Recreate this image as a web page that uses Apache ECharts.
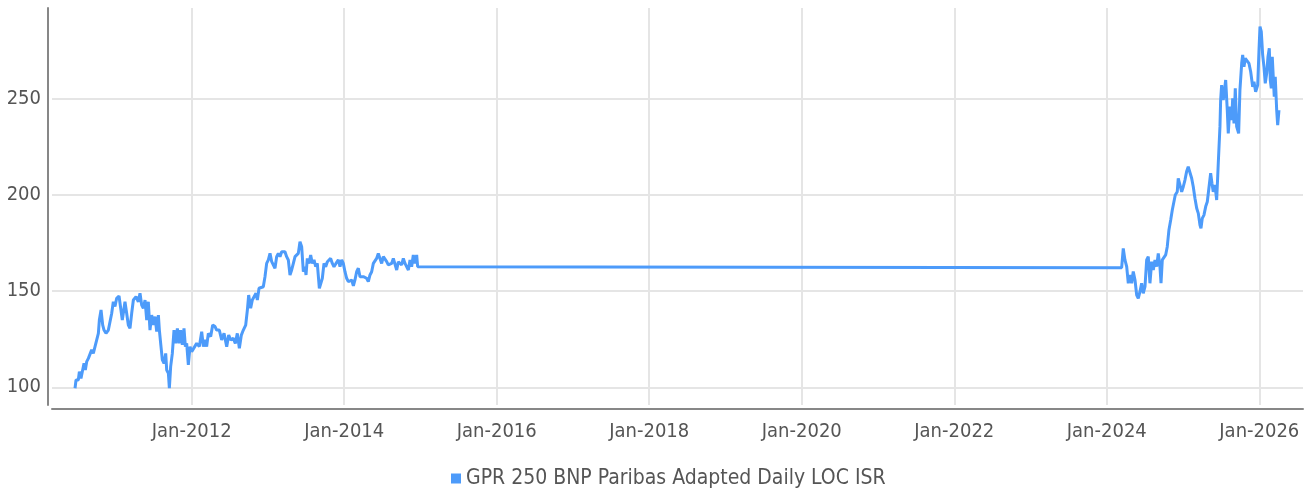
<!DOCTYPE html>
<html>
<head>
<meta charset="utf-8">
<script src="https://cdn.jsdelivr.net/npm/echarts@6/dist/echarts.min.js"></script>
<style>
  html, body { margin: 0; padding: 0; background: #fff; }
  #chart { width: 1312px; height: 493px; }
</style>
</head>
<body>
<div id="chart"></div>
<script>
const seriesName = 'GPR 250 BNP Paribas Adapted Daily LOC ISR';

// Observation times as decimal years
const times = [
  2010.470,2010.483,2010.513,2010.527,2010.548,2010.570,2010.588,2010.605,2010.623,2010.645,
  2010.666,2010.688,2010.710,2010.732,2010.754,2010.776,2010.789,2010.811,2010.833,2010.850,
  2010.876,2010.907,2010.929,2010.951,2010.972,2010.994,2011.016,2011.047,2011.069,2011.090,
  2011.104,2011.125,2011.147,2011.169,2011.191,2011.213,2011.235,2011.270,2011.300,2011.322,
  2011.344,2011.366,2011.388,2011.410,2011.431,2011.453,2011.475,2011.497,2011.519,2011.541,
  2011.563,2011.576,2011.593,2011.615,2011.637,2011.659,2011.672,2011.694,2011.707,2011.724,
  2011.746,2011.768,2011.790,2011.812,2011.833,2011.855,2011.877,2011.899,2011.917,2011.934,
  2011.956,2011.978,2012.000,2012.021,2012.065,2012.100,2012.131,2012.153,2012.174,2012.196,
  2012.218,2012.249,2012.275,2012.306,2012.327,2012.362,2012.393,2012.424,2012.459,2012.485,
  2012.511,2012.546,2012.572,2012.598,2012.625,2012.651,2012.677,2012.708,2012.730,2012.747,
  2012.773,2012.795,2012.821,2012.843,2012.861,2012.883,2012.904,2012.939,2012.961,2012.983,
  2013.005,2013.027,2013.049,2013.070,2013.092,2013.114,2013.136,2013.158,2013.180,2013.202,
  2013.223,2013.245,2013.267,2013.289,2013.311,2013.333,2013.355,2013.376,2013.398,2013.420,
  2013.442,2013.464,2013.486,2013.499,2013.516,2013.538,2013.560,2013.582,2013.604,2013.626,
  2013.647,2013.674,2013.696,2013.713,2013.735,2013.757,2013.779,2013.800,2013.822,2013.844,
  2013.866,2013.892,2013.923,2013.945,2013.967,2013.988,2014.010,2014.032,2014.054,2014.076,
  2014.098,2014.120,2014.141,2014.163,2014.185,2014.207,2014.229,2014.251,2014.272,2014.294,
  2014.316,2014.338,2014.360,2014.382,2014.404,2014.425,2014.447,2014.469,2014.491,2014.513,
  2014.535,2014.557,2014.578,2014.600,2014.622,2014.644,2014.666,2014.688,2014.710,2014.731,
  2014.753,2014.775,2014.797,2014.819,2014.841,2014.863,2014.884,2014.906,2014.928,2014.950,
  2014.963,2014.976,
  2024.195,2024.216,2024.238,2024.261,2024.282,2024.304,2024.326,2024.347,2024.370,2024.392,
  2024.413,2024.435,2024.457,2024.478,2024.501,2024.523,2024.544,2024.566,2024.589,2024.610,
  2024.632,2024.654,2024.675,2024.697,2024.711,2024.728,2024.750,2024.772,2024.793,2024.815,
  2024.838,2024.859,2024.881,2024.898,2024.924,2024.937,2024.960,2024.982,2025.003,2025.025,
  2025.048,2025.068,2025.091,2025.113,2025.134,2025.156,2025.179,2025.200,2025.222,2025.235,
  2025.252,2025.274,2025.297,2025.318,2025.340,2025.362,2025.379,2025.396,2025.419,2025.441,
  2025.462,2025.484,2025.493,2025.506,2025.527,2025.541,2025.559,2025.580,2025.593,2025.615,
  2025.638,2025.651,2025.668,2025.685,2025.703,2025.729,2025.746,2025.769,2025.782,2025.799,
  2025.816,2025.842,2025.864,2025.887,2025.913,2025.930,2025.952,2025.979,2025.996,2026.009,
  2026.026,2026.044,2026.061,2026.078,2026.097,2026.114,2026.131,2026.144,2026.157,2026.170,
  2026.183,2026.196,2026.209,2026.228,2026.241,2026.258
];

const values = [
  99.5,103.8,103.8,108.1,104.6,109.0,112.4,109.0,113.3,115.0,
  114.2,119.4,117.6,121.1,122.0,128.0,134.9,140.1,132.3,129.7,
  128.0,129.7,130.6,138.4,144.4,141.9,146.2,147.4,141.0,134.9,
  134.1,144.4,138.4,132.3,130.6,138.4,145.3,147.0,144.4,148.8,
  142.7,141.0,145.3,134.9,144.4,129.7,137.5,132.3,136.7,128.9,
  137.5,129.7,122.8,114.2,112.4,117.6,109.0,107.3,99.5,110.7,
  117.6,129.7,122.8,130.6,122.8,129.7,122.0,130.6,121.1,122.8,
  111.6,121.1,118.5,119.4,122.8,121.1,128.9,121.1,124.6,121.1,
  128.0,126.3,132.3,131.5,129.7,129.7,124.6,128.0,121.1,127.1,
  124.6,125.4,122.8,128.0,120.2,127.1,129.7,132.3,140.1,147.9,
  141.0,145.3,144.4,148.8,145.3,151.4,150.5,152.2,157.4,164.3,
  166.1,169.5,165.2,166.1,161.8,167.8,169.5,167.8,170.4,169.5,
  170.4,167.8,166.1,158.3,160.9,164.3,167.8,167.8,169.5,175.6,
  173.0,160.0,162.6,158.3,166.9,164.3,168.7,164.3,166.1,162.6,
  164.3,151.4,152.2,156.6,164.3,162.6,165.2,164.3,166.9,164.3,
  162.6,164.3,166.1,162.6,166.1,164.3,160.0,156.6,154.8,154.0,
  155.7,152.6,155.7,160.0,161.8,157.4,158.3,157.4,156.6,156.6,
  154.8,158.3,160.0,164.3,163.5,166.9,169.5,166.9,164.3,167.8,
  168.7,165.2,163.5,162.6,164.3,166.9,166.1,160.9,165.2,166.1,
  163.5,166.9,164.3,164.3,160.9,166.1,162.6,168.7,164.3,168.7,
  162.6,162.1,
  162.1,172.1,166.1,162.6,154.0,158.3,154.0,160.1,155.7,147.9,
  146.2,149.6,154.0,148.8,152.2,166.1,167.8,154.0,165.2,160.9,
  166.1,162.6,169.5,162.6,154.0,166.1,165.2,168.7,173.0,181.7,
  186.8,192.0,192.9,199.8,201.5,208.5,205.0,201.5,204.1,207.6,
  212.2,214.5,215.3,208.5,204.1,198.1,192.9,190.3,184.2,182.5,
  187.7,189.4,193.8,196.3,195.5,211.1,205.9,201.5,205.0,197.2,
  216.3,235.3,249.1,256.9,249.1,253.4,259.5,243.9,231.8,245.7,
  238.7,250.0,237.0,255.2,235.3,231.8,254.3,268.2,272.6,266.4,
  270.8,271.6,268.2,263.8,256.0,258.6,253.4,256.9,275.1,287.2,
  284.6,272.6,266.4,257.8,263.0,271.6,276.0,259.5,255.2,271.6,
  261.2,250.8,261.2,243.9,236.1,243.9
];

const xTicks = [2012, 2014, 2016, 2018, 2020, 2022, 2024, 2026];
const xTickLabels = ['Jan-2012','Jan-2014','Jan-2016','Jan-2018','Jan-2020','Jan-2022','Jan-2024','Jan-2026'];
const yTicks = [100, 150, 200, 250];
const xRange = [2010.168, 2026.573];
const yRange = [90.8, 296.9];

const data = times.map((t, i) => [t, values[i]]);

const FONT = "'Liberation Sans Narrow', 'DejaVu Sans Condensed', 'Roboto', sans-serif";
const chart = echarts.init(document.getElementById('chart'), null, { renderer: 'canvas' });
chart.setOption({
  animation: false,
  backgroundColor: '#ffffff',
  grid: { left: 52, right: 9, top: 8, bottom: 88, containLabel: false },
  legend: {
    show: true,
    top: 468,
    left: 451,
    padding: 0,
    icon: 'rect',
    itemWidth: 10,
    itemHeight: 10,
    itemGap: 10,
    textStyle: { fontFamily: FONT, fontSize: 21, color: '#555555' },
    data: [seriesName]
  },
  xAxis: {
    type: 'value',
    min: xRange[0],
    max: xRange[1],
    offset: 4,
    axisLine: { show: true, lineStyle: { color: '#878787', width: 2 } },
    axisTick: { show: false, customValues: xTicks },
    axisLabel: {
      customValues: xTicks,
      fontFamily: FONT, fontSize: 20, color: '#555555', margin: 13,
      formatter: v => { const i = xTicks.indexOf(v); return i >= 0 ? xTickLabels[i] : ''; }
    },
    splitLine: { show: true, lineStyle: { color: '#e5e5e5', width: 2 } }
  },
  yAxis: {
    type: 'value',
    min: yRange[0],
    max: yRange[1],
    offset: 4,
    axisLine: { show: true, lineStyle: { color: '#878787', width: 2 } },
    axisTick: { show: false, customValues: yTicks },
    axisLabel: {
      customValues: yTicks,
      fontFamily: FONT, fontSize: 20, color: '#555555', margin: 7
    },
    splitLine: { show: true, lineStyle: { color: '#e5e5e5', width: 2 } }
  },
  series: [{
    name: seriesName,
    type: 'line',
    data: data,
    showSymbol: false,
    symbol: 'none',
    color: '#4d9bfa',
    lineStyle: { color: '#4d9bfa', width: 3 }
  }]
});
</script>
</body>
</html>
